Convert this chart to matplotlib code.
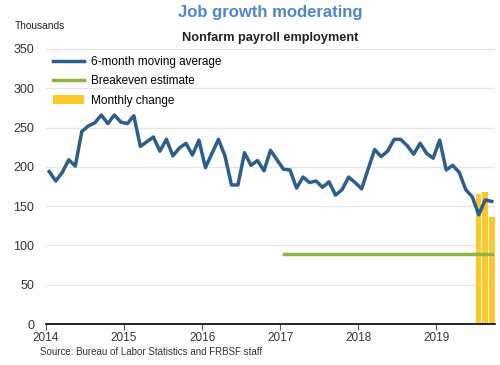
import matplotlib.pyplot as plt
import numpy as np

plt.rcParams['font.family'] = ['Liberation Sans', 'DejaVu Sans']

# 6-month moving average, monthly Jan 2014 - Sep 2019 (thousands)
moving_avg = [194, 182, 193, 209, 201, 245, 252, 256, 266, 255, 266, 257,
              255, 265, 226, 232, 238, 220, 235, 214, 224, 230, 215, 234,
              199, 217, 235, 214, 177, 177, 218, 202, 208, 195, 221, 209,
              197, 196, 173, 187, 180, 182, 174, 181, 164, 171, 187, 180,
              172, 197, 222, 213, 220, 235, 235, 227, 216, 230, 217, 211,
              234, 196, 202, 193, 171, 162, 139, 158, 156]
# monthly change, Jul - Sep 2019
monthly_change = [166, 168, 136]
monthly_idx = [66, 67, 68]
# breakeven estimate from Jan 2017 to Sep 2019
breakeven = 89
breakeven_idx = [36, 68]

years = [2014, 2015, 2016, 2017, 2018, 2019]
yticks = [0, 50, 100, 150, 200, 250, 300, 350]

blue = '#2D5D8C'
green = '#8DB443'
yellow = '#FFC72C'

t = 2014 + (np.arange(len(moving_avg)) + 0.5) / 12
tb = 2014 + (np.array(monthly_idx) + 0.5) / 12
te = 2014 + (np.array(breakeven_idx) + 0.5) / 12

fig = plt.figure(figsize=(5, 3.65), dpi=100)
ax = fig.add_axes([0.092, 0.1123, 0.898, 0.7535])

bars = ax.bar(tb, monthly_change, width=0.85 / 12, color=yellow, zorder=2)
be, = ax.plot(te, [breakeven, breakeven], color=green, lw=2.5, zorder=3)
ma, = ax.plot(t, moving_avg, color=blue, lw=2.5, zorder=4)

ax.set_xlim(2014, 2019.75)
ax.set_ylim(0, 350)
ax.set_yticks(yticks)
ax.set_xticks(years)
ax.set_xticklabels([str(y) for y in years])
ax.yaxis.grid(True, color='#E6E6E6', lw=1)
ax.set_axisbelow(True)
for s in ['top', 'right', 'left']:
    ax.spines[s].set_visible(False)
ax.spines['bottom'].set_color('black')
ax.spines['bottom'].set_linewidth(1.2)
ax.tick_params(axis='y', length=0, labelsize=9, colors='#333333', pad=8.5)
ax.tick_params(axis='x', length=4, direction='out', labelsize=8.5, pad=2,
               colors='#555555', labelcolor='#333333')

ax.legend([ma, be, bars], ['6-month moving average', 'Breakeven estimate', 'Monthly change'],
          loc='upper left', bbox_to_anchor=(0.0, 1.0), frameon=False, fontsize=8.5,
          handlelength=2.6, labelspacing=0.62, borderaxespad=0.2, handletextpad=0.6)

fig.text(0.54, 0.965, 'Job growth moderating', ha='center', va='center',
         fontsize=12, fontweight='bold', color='#4F86C6')
fig.text(0.54, 0.895, 'Nonfarm payroll employment', ha='center', va='center',
         fontsize=9.2, fontweight='bold', color='#222222')
fig.text(0.03, 0.93, 'Thousands', ha='left', va='center', fontsize=7.3, color='#222222')
fig.text(0.08, 0.035, 'Source: Bureau of Labor Statistics and FRBSF staff', ha='left',
         va='center', fontsize=7, color='#333333')

fig.savefig('out.png', dpi=100)
